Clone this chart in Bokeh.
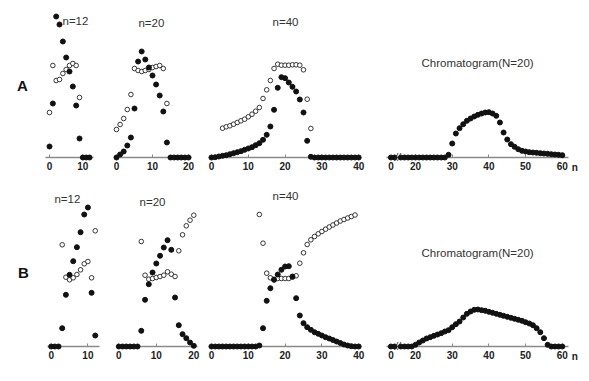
from bokeh.plotting import figure
from bokeh.layouts import row, column
from bokeh.models import Label, FixedTicker, Range1d
from bokeh.core.properties import value
from bokeh.embed import file_html
from bokeh.resources import INLINE

# ---------------- data (heights above baseline, arbitrary units) ----------------
# Row A
a12_xf = list(range(0, 13))
a12_yf = [11, 54, 141, 133, 116, 100, 86, 71, 52, 19, 0, 0, 0]
a12_xo = list(range(0, 10))
a12_yo = [45, 92, 77, 78, 84, 88, 92, 94, 92, 60]

a20_xf = list(range(0, 21))
a20_yf = [0, 3, 6, 12, 20, 49, 96, 106, 98, 90, 82, 73, 62, 46, 15, 0, 0, 0, 0, 0, 0]
a20_xo = list(range(0, 15))
a20_yo = [28, 33, 39, 48, 63, 89, 87, 86, 87, 88, 90, 91, 92, 89, 54]

a40_xf = list(range(0, 41))
a40_yf = [0, 0.3, 1, 1.7, 2.3, 3.3, 4.3, 5.3, 6.3, 7.7, 9, 10.3, 12.3, 14.3, 17.7, 22.7,
          31, 47.7, 69.7, 80.3, 79.3, 75, 70.7, 66, 58, 45, 16.7, 0.7,
          0, 0, 0, 0, 0, 0, 0, 0, 0, 0, 0, 0, 0]
a40_xo = list(range(3, 28))
a40_yo = [29.3, 30.7, 31.7, 33.3, 35, 36.7, 38.3, 40.7, 43.3, 46.3, 50, 59, 67.7, 77, 89,
          93.3, 92.3, 92.3, 92.3, 92.7, 92.7, 92.3, 87.7, 58.3, 29]

chrom_x = [13.3, 14.3] + list(range(16, 61))
chromA_y = [0, 0] + [0] * 13 + [2.7, 14, 24, 29.3, 33.3, 36.7, 39, 41, 42.7, 44, 45, 45.3,
            44, 41.7, 35, 25, 18, 13.3, 10.7, 8.3, 6.7, 6, 5.3, 5, 4.7, 4.3, 4, 3.7, 3.3,
            3, 2.7, 2.3]

# Row B
b12_xf = list(range(0, 13))
b12_yf = [0, 0, 0, 18.3, 51.7, 71.7, 85.3, 99.3, 114.3, 132, 139, 53.7, 11]
b12_xo = list(range(3, 13))
b12_yo = [101.7, 69.3, 66.7, 68.7, 72, 76.7, 82.7, 85, 68.7, 115.7]

b20_xf = list(range(0, 21))
b20_yf = [0, 0, 0, 0, 0, 0, 15.7, 46.7, 62.3, 74, 83, 90.7, 99, 106.3, 96.7, 49, 21.3,
          12.3, 8.3, 4, 0.7]
b20_xo = list(range(6, 21))
b20_yo = [105, 71.3, 67.3, 68, 69, 70, 71.3, 74.7, 72.3, 70, 95.7, 111.7, 120.7, 126.3, 131.3]

b40_xf = list(range(0, 41))
b40_yf = [0] * 13 + [1, 18.3, 45.7, 58.3, 66.7, 72, 76.7, 80, 80.3, 70, 48.3, 31, 23.3,
                     19.3, 16.7, 14.3, 12.7, 11, 9.3, 8, 6.5, 5, 3.5, 2, 1, 0.3, 0, 0]
b40_xo = list(range(13, 40))
b40_yo = [132, 103.3, 73.3, 68.7, 67.3, 68, 68, 68, 68, 69.3, 70.7, 83.3, 93.7, 102, 106.7,
          110, 112.7, 115, 117.3, 119.5, 121.5, 123.5, 125.5, 127, 128.5, 130, 131.5]

chromB_y = [0, 0] + [0] * 4 + [1.7, 4, 6, 8, 9.3, 10.7, 12, 13.3, 15, 16.3, 19.3, 22.3, 25,
            29, 32.7, 35, 36.7, 37, 36.3, 35.7, 34.7, 33.7, 32.7, 31.7, 30.7, 29.7, 28.7,
            27.7, 26.7, 25.7, 24.3, 23, 21.3, 18.3, 14.3, 8.3, 1.7, 0, 0, 0, 0]

ticks12 = [0, 10]
ticks20 = [0, 10, 20]
ticks40 = [0, 10, 20, 30, 40]
chrom_ticks = [20, 30, 40, 50, 60]
chrom_zero_label = "0"      # first (broken-axis) label of the chromatogram axis
chrom_zero_pos = 13.3
chrom_break_pos = 15.1
chrom_unit_label = "n"
chrom_unit_pos = 63.4

FONT = "Liberation Sans"


def panel(w, h, bottom, xr, ytop, ticks, bounds):
    p = figure(width=w, height=h, x_range=Range1d(*xr), y_range=Range1d(0, ytop),
               output_backend="svg", toolbar_location=None, y_axis_location=None,
               min_border_left=0, min_border_right=0, min_border_top=0,
               min_border_bottom=bottom)
    p.outline_line_color = None
    p.xgrid.grid_line_color = None
    p.ygrid.grid_line_color = None
    p.background_fill_color = "white"
    p.border_fill_color = "white"
    ax = p.xaxis[0]
    ax.ticker = FixedTicker(ticks=ticks)
    ax.bounds = bounds
    ax.axis_line_color = "#8a8a8a"
    ax.axis_line_width = 1.3
    ax.major_tick_in = 3
    ax.major_tick_out = 0
    ax.major_tick_line_color = "#8a8a8a"
    ax.minor_tick_line_color = None
    ax.major_label_standoff = 4
    ax.major_label_text_font = FONT
    ax.major_label_text_font_size = "10px"
    ax.major_label_text_font_style = "bold"
    ax.major_label_text_color = "#222222"
    return p


def dots(p, xf, yf, xo=None, yo=None):
    if xo is not None:
        p.scatter(xo, yo, size=4.6, fill_color="white", line_color="#222222",
                  line_width=0.9, level="overlay")
    p.scatter(xf, yf, size=5, fill_color="#111111", line_color="#111111", level="overlay")


def title(p, x, y, text, align="center", size="11.5px", style="normal", color="#333333"):
    p.add_layout(Label(x=x, y=y, text=text, text_align=align, text_baseline="middle",
                       text_font=FONT, text_font_size=size, text_font_style=style,
                       text_color=color))


def chrom_extras(p):
    # broken-axis mark
    p.text(x=[chrom_break_pos], y=[0], text=["//"], text_align="center",
           text_baseline="middle", text_font=value(FONT), text_font_size="10px",
           text_font_style="italic", text_color="#222222", level="overlay")
    # "0" label before the break and "n" at the end of the axis
    p.text(x=[chrom_zero_pos, chrom_unit_pos], y=[-4, -4],
           text=[chrom_zero_label, chrom_unit_label], text_align="center",
           text_baseline="top", text_font=value(FONT), text_font_size="10px",
           text_font_style="bold", text_color="#222222", level="overlay")


# ---------------- Row A ----------------
HA, BA, YA = 183, 26, 157
pA1 = panel(100, HA, BA, (-14.71, 15.3), YA, ticks12, (-1.2, 13.2))
dots(pA1, a12_xf, a12_yf, a12_xo, a12_yo)
title(pA1, 3.9, 137, "n=12", align="left")
title(pA1, -8.1, 72, "A", size="15px", style="bold", color="#111111")

pA2 = panel(100, HA, BA, (-4.44, 23.33), YA, ticks20, (-0.3, 20.8))
dots(pA2, a20_xf, a20_yf, a20_xo, a20_yo)
title(pA2, 9.7, 135, "n=20")

pA3 = panel(172, HA, BA, (-2.99, 43.75), YA, ticks40, (-0.8, 40.5))
dots(pA3, a40_xf, a40_yf, a40_xo, a40_yo)
title(pA3, 20.1, 136, "n=40")

pA4 = panel(217, HA, BA, (8.28, 67.41), YA, chrom_ticks, (12.1, 61.7))
dots(pA4, chrom_x, chromA_y)
title(pA4, 36.9, 95, "Chromatogram(N=20)")
chrom_extras(pA4)

# ---------------- Row B ----------------
HB, BB, YB = 198, 35, 163
pB1 = panel(100, HB, BB, (-13.81, 13.43), YB, ticks12, (-1.1, 13.1))
dots(pB1, b12_xf, b12_yf, b12_xo, b12_yo)
title(pB1, 4.4, 148, "n=12")
title(pB1, -7.55, 74, "B", size="15px", style="bold", color="#111111")

pB2 = panel(100, HB, BB, (-4.88, 21.79), YB, ticks20, (-0.4, 20.9))
dots(pB2, b20_xf, b20_yf, b20_xo, b20_yo)
title(pB2, 9.0, 145, "n=20")

pB3 = panel(172, HB, BB, (-2.99, 43.75), YB, ticks40, (-0.8, 40.5))
dots(pB3, b40_xf, b40_yf, b40_xo, b40_yo)
title(pB3, 20.1, 151, "n=40")

pB4 = panel(217, HB, BB, (8.28, 67.41), YB, chrom_ticks, (12.1, 61.7))
dots(pB4, chrom_x, chromB_y)
title(pB4, 36.9, 94, "Chromatogram(N=20)")
chrom_extras(pB4)

layout = column(row(pA1, pA2, pA3, pA4), row(pB1, pB2, pB3, pB4))

open("out.html", "w").write(file_html(layout, INLINE))
